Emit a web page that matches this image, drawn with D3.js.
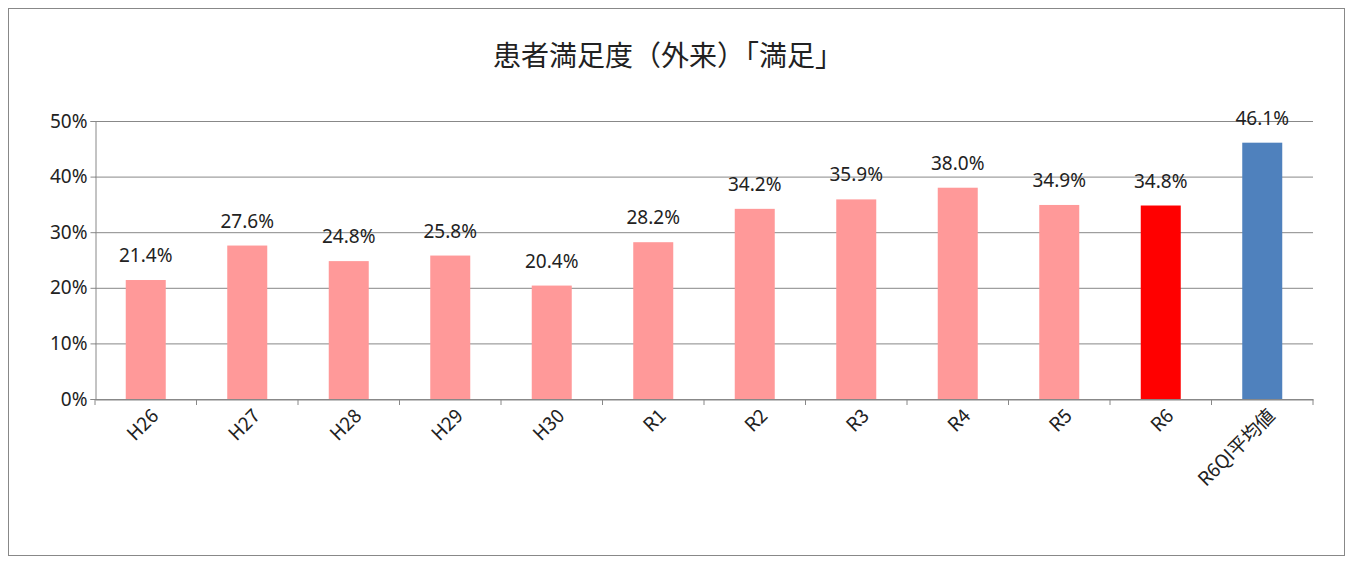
<!DOCTYPE html>
<html><head><meta charset="utf-8">
<script src="https://cdn.jsdelivr.net/npm/d3@7"></script>
<style>body{margin:0;background:#fff;font-family:"Noto Sans CJK JP","Noto Sans",sans-serif;}</style>
</head><body><div id="chart"></div>
<script>
const categories = ['H26','H27','H28','H29','H30','R1','R2','R3','R4','R5','R6','R6QI平均値'];
const values = [21.4,27.6,24.8,25.8,20.4,28.2,34.2,35.9,38.0,34.9,34.8,46.1];
const barColors = ['#FF9999','#FF9999','#FF9999','#FF9999','#FF9999','#FF9999','#FF9999','#FF9999','#FF9999','#FF9999','#FF0000','#4F81BD'];
const yTicks = [0,10,20,30,40,50];

const W = 1353, H = 564;
const margin = {left: 95, right: 40, top: 121, bottom: 165};

const svg = d3.select('#chart').append('svg').attr('width', W).attr('height', H);
svg.append('rect').attr('x', 8.5).attr('y', 8.5).attr('width', W - 17).attr('height', H - 17)
  .attr('fill', '#fff').attr('stroke', '#888');

svg.append('text').text('患者満足度（外来）「満足」')
  .attr('x', 668).attr('y', 66).attr('text-anchor', 'middle')
  .attr('font-size', 28).attr('fill', '#222');

const x = d3.scaleBand().domain(categories).range([margin.left, W - margin.right]);
const y = d3.scaleLinear().domain([0, 50]).range([H - margin.bottom, margin.top]);

const g = svg.append('g');
g.selectAll('.grid').data(yTicks).enter().append('line')
  .attr('x1', margin.left).attr('x2', W - margin.right)
  .attr('y1', d => y(d) + 0.5).attr('y2', d => y(d) + 0.5)
  .attr('stroke', '#888');

const axisY = d3.axisLeft(y).tickValues(yTicks).tickFormat(d => d + '%').tickSize(5);
svg.append('g').attr('transform', `translate(${margin.left + 0.5},0)`).call(axisY)
  .call(s => { s.select('.domain').attr('stroke', '#888'); s.selectAll('line').attr('stroke', '#888');
    s.selectAll('text').attr('font-size', 19).attr('fill', '#222').attr('font-family', '"Noto Sans",sans-serif'); });

svg.append('g').attr('transform', `translate(0,${y(0) + 0.5})`)
  .call(d3.axisBottom(x).tickSize(0).tickFormat(''))
  .call(s => s.select('.domain').attr('stroke', '#888'));
g.selectAll('.btick').data(d3.range(categories.length + 1)).enter().append('line')
  .attr('x1', i => margin.left + i * x.step()).attr('x2', i => margin.left + i * x.step())
  .attr('y1', y(0)).attr('y2', y(0) + 6).attr('stroke', '#888');

const bw = 40;
g.selectAll('.bar').data(values).enter().append('rect')
  .attr('x', (d, i) => x(categories[i]) + x.bandwidth() / 2 - bw / 2)
  .attr('y', d => y(d)).attr('width', bw).attr('height', d => y(0) - y(d))
  .attr('fill', (d, i) => barColors[i]);

g.selectAll('.lbl').data(values).enter().append('text')
  .text(d => d.toFixed(1) + '%')
  .attr('x', (d, i) => x(categories[i]) + x.bandwidth() / 2)
  .attr('y', d => y(d) - 18).attr('text-anchor', 'middle')
  .attr('font-size', 19).attr('fill', '#222').attr('font-family', '"Noto Sans","Noto Sans CJK JP",sans-serif');

g.selectAll('.xl').data(categories).enter().append('text')
  .text(d => d)
  .attr('transform', d => `translate(${x(d) + x.bandwidth() / 2 + 14},${y(0) + 18}) rotate(-45)`)
  .attr('text-anchor', 'end').attr('font-size', 19).attr('fill', '#222');
</script></body></html>
